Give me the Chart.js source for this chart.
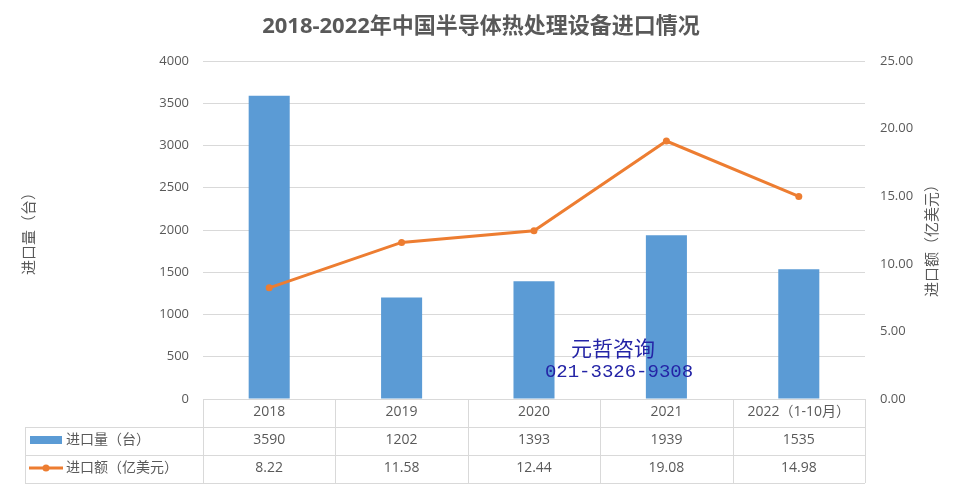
<!DOCTYPE html>
<html>
<head>
<meta charset="utf-8">
<script src="https://cdn.jsdelivr.net/npm/chart.js@4.4.0/dist/chart.umd.min.js"></script>
<style>
  html, body { margin: 0; padding: 0; background: #fff; }
  canvas { display: block; }
</style>
</head>
<body>
<canvas id="chart" width="964" height="491"></canvas>
<script>
const categories = ['2018', '2019', '2020', '2021', '2022（1-10月）'];
const quantity = [3590, 1202, 1393, 1939, 1535];
const amount = [8.22, 11.58, 12.44, 19.08, 14.98];
const quantityLabel = '进口量（台）';
const amountLabel = '进口额（亿美元）';
const titleText = '2018-2022年中国半导体热处理设备进口情况';

const FONT = '"Open Sans", "Noto Sans CJK SC", sans-serif';
const GRAY = '#595959';
const LINE = '#d9d9d9';
const BLUE = '#5b9bd5';
const ORANGE = '#ed7d31';

const extras = {
    id: 'extras',
    afterDraw(chart) {
        const ctx = chart.ctx;
        const area = chart.chartArea;
        const x = chart.scales.x;
        const step = (area.right - area.left) / categories.length;
        const rowH = 28;
        const tableLeft = 25;
        const r0 = area.bottom;
        const r1 = r0 + rowH;
        const r2 = r1 + rowH;
        const r3 = r2 + rowH;

        ctx.save();

        // title
        ctx.fillStyle = GRAY;
        ctx.font = 'bold 22px ' + FONT;
        ctx.textAlign = 'center';
        ctx.textBaseline = 'middle';
        ctx.fillText(titleText, 481, 27);

        // axis titles, both read bottom to top
        ctx.font = '15px ' + FONT;
        ctx.save();
        ctx.translate(30, 230);
        ctx.rotate(-Math.PI / 2);
        ctx.fillText(quantityLabel, 0, 0);
        ctx.restore();
        ctx.save();
        ctx.translate(933, 237);
        ctx.rotate(-Math.PI / 2);
        ctx.fillText(amountLabel, 0, 0);
        ctx.restore();

        // data table grid
        ctx.strokeStyle = LINE;
        ctx.lineWidth = 1;
        ctx.beginPath();
        for (let i = 0; i <= categories.length; i++) {
            const vx = Math.round(area.left + i * step) + 0.5;
            ctx.moveTo(vx, r0);
            ctx.lineTo(vx, r3);
        }
        ctx.moveTo(tableLeft + 0.5, r1);
        ctx.lineTo(tableLeft + 0.5, r3);
        [r1, r2, r3].forEach(y => {
            ctx.moveTo(tableLeft, Math.round(y) + 0.5);
            ctx.lineTo(area.right, Math.round(y) + 0.5);
        });
        ctx.stroke();

        // table text
        ctx.fillStyle = GRAY;
        ctx.font = '14px ' + FONT;
        ctx.textAlign = 'center';
        categories.forEach((c, i) => {
            const cx = x.getPixelForValue(i);
            ctx.fillText(c, cx, r0 + 13);
            ctx.fillText(String(quantity[i]), cx, r1 + 13);
            ctx.fillText(amount[i].toFixed(2), cx, r2 + 13);
        });

        // legend keys
        ctx.fillStyle = BLUE;
        ctx.fillRect(30, r1 + 9, 32, 8);
        ctx.strokeStyle = ORANGE;
        ctx.lineWidth = 3;
        ctx.beginPath();
        ctx.moveTo(29, r2 + 13);
        ctx.lineTo(63, r2 + 13);
        ctx.stroke();
        ctx.fillStyle = ORANGE;
        ctx.beginPath();
        ctx.arc(46, r2 + 13, 3.5, 0, Math.PI * 2);
        ctx.fill();
        ctx.fillStyle = GRAY;
        ctx.textAlign = 'left';
        ctx.fillText(quantityLabel, 66, r1 + 13);
        ctx.fillText(amountLabel, 66, r2 + 13);

        // watermark
        ctx.fillStyle = '#2424a6';
        ctx.textAlign = 'center';
        ctx.font = '21px "Noto Sans CJK SC", serif';
        ctx.fillText('元哲咨询', 613, 348);
        ctx.font = '19px "Liberation Mono", "DejaVu Sans Mono", monospace';
        ctx.fillText('021-3326-9308', 619, 372);

        ctx.restore();
    }
};

new Chart(document.getElementById('chart'), {
    data: {
        labels: categories,
        datasets: [
            {
                type: 'line',
                label: amountLabel,
                data: amount,
                yAxisID: 'y1',
                borderColor: ORANGE,
                backgroundColor: ORANGE,
                borderWidth: 3,
                pointRadius: 3.5,
                pointBorderWidth: 0,
                tension: 0,
                order: 0,
            },
            {
                type: 'bar',
                label: quantityLabel,
                data: quantity,
                yAxisID: 'y',
                backgroundColor: BLUE,
                barPercentage: 0.31,
                categoryPercentage: 1,
                order: 1,
            },
        ],
    },
    options: {
        responsive: false,
        animation: false,
        layout: { padding: { top: 61, bottom: 92, left: 0, right: 0 } },
        plugins: {
            legend: { display: false },
            tooltip: { enabled: false },
        },
        scales: {
            x: { display: false, offset: true },
            y: {
                position: 'left',
                min: 0,
                max: 4000,
                ticks: {
                    stepSize: 500,
                    padding: 14,
                    color: GRAY,
                    font: { family: FONT, size: 13 },
                    callback: v => String(v),
                },
                grid: { color: LINE, drawTicks: false },
                border: { display: false },
                afterFit(scale) { scale.width = 203; },
            },
            y1: {
                position: 'right',
                min: 0,
                max: 25,
                ticks: {
                    stepSize: 5,
                    padding: 15,
                    color: GRAY,
                    font: { family: FONT, size: 13 },
                    callback: v => v.toFixed(2),
                },
                grid: { display: false, drawTicks: false },
                border: { display: false },
                afterFit(scale) { scale.width = 99; },
            },
        },
    },
    plugins: [extras],
});
</script>
</body>
</html>
